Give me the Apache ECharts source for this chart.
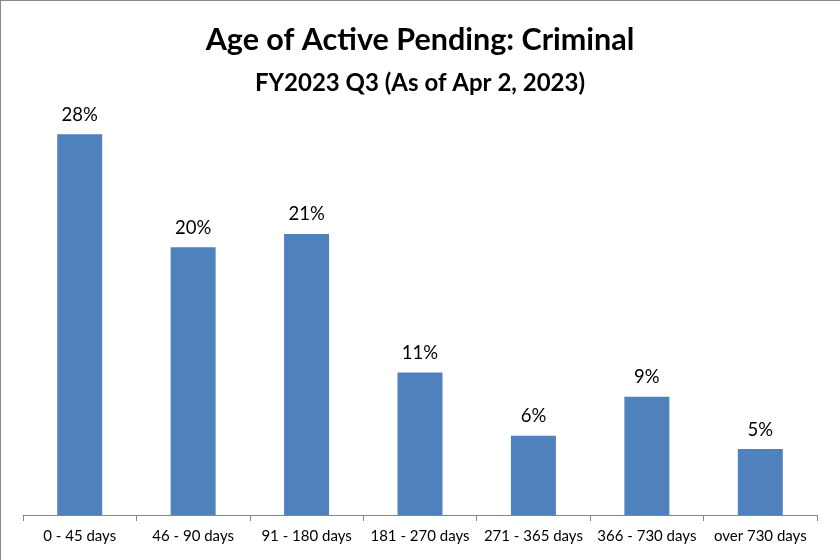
<!DOCTYPE html>
<html>
<head>
<meta charset="utf-8">
<script src="https://cdn.jsdelivr.net/npm/echarts@6/dist/echarts.min.js"></script>
<style>
html,body{margin:0;padding:0;background:#fff;}
#chart{width:840px;height:560px;}
</style>
</head>
<body>
<div id="chart"></div>
<script>
const titleText = 'Age of Active Pending: Criminal';
const subtitleText = 'FY2023 Q3 (As of Apr 2, 2023)';
const categories = ['0 - 45 days', '46 - 90 days', '91 - 180 days', '181 - 270 days', '271 - 365 days', '366 - 730 days', 'over 730 days'];
const percentValues = [28.3, 19.9, 20.9, 10.6, 5.9, 8.8, 4.9];

const chart = echarts.init(document.getElementById('chart'), null, {renderer: 'canvas'});
chart.setOption({
  animation: false,
  backgroundColor: '#ffffff',
  title: [
    {text: titleText, left: 'center', top: 20,
     textStyle: {fontFamily: 'Lato', fontWeight: 'bold', fontSize: 30.5, color: '#000'}},
    {text: subtitleText, left: 'center', top: 66,
     textStyle: {fontFamily: 'Lato', fontWeight: 'bold', fontSize: 24, color: '#000'}}
  ],
  graphic: [
    {type: 'line', shape: {x1: 0.5, y1: 0, x2: 0.5, y2: 560}, style: {stroke: '#878787', lineWidth: 1}},
    {type: 'line', shape: {x1: 0, y1: 0.5, x2: 840, y2: 0.5}, style: {stroke: '#878787', lineWidth: 1}}
  ],
  grid: {left: 23, right: 23, top: 111.5, bottom: 45, containLabel: false},
  xAxis: {
    type: 'category',
    data: categories,
    axisLine: {lineStyle: {color: '#868686', width: 1}},
    axisTick: {show: true, length: 6, lineStyle: {color: '#868686'}},
    axisLabel: {fontFamily: 'Lato', fontSize: 15, color: '#000', margin: 14, interval: 0}
  },
  yAxis: {
    type: 'value', min: 0, max: 30, show: false,
    splitLine: {show: false}
  },
  series: [{
    type: 'bar',
    data: percentValues,
    barWidth: 45,
    itemStyle: {color: '#4F81BD'},
    label: {
      show: true, position: 'top', distance: 10,
      fontFamily: 'Lato', fontSize: 18.5, color: '#000',
      formatter: p => Math.round(p.value) + '%'
    }
  }]
});
</script>
</body>
</html>
